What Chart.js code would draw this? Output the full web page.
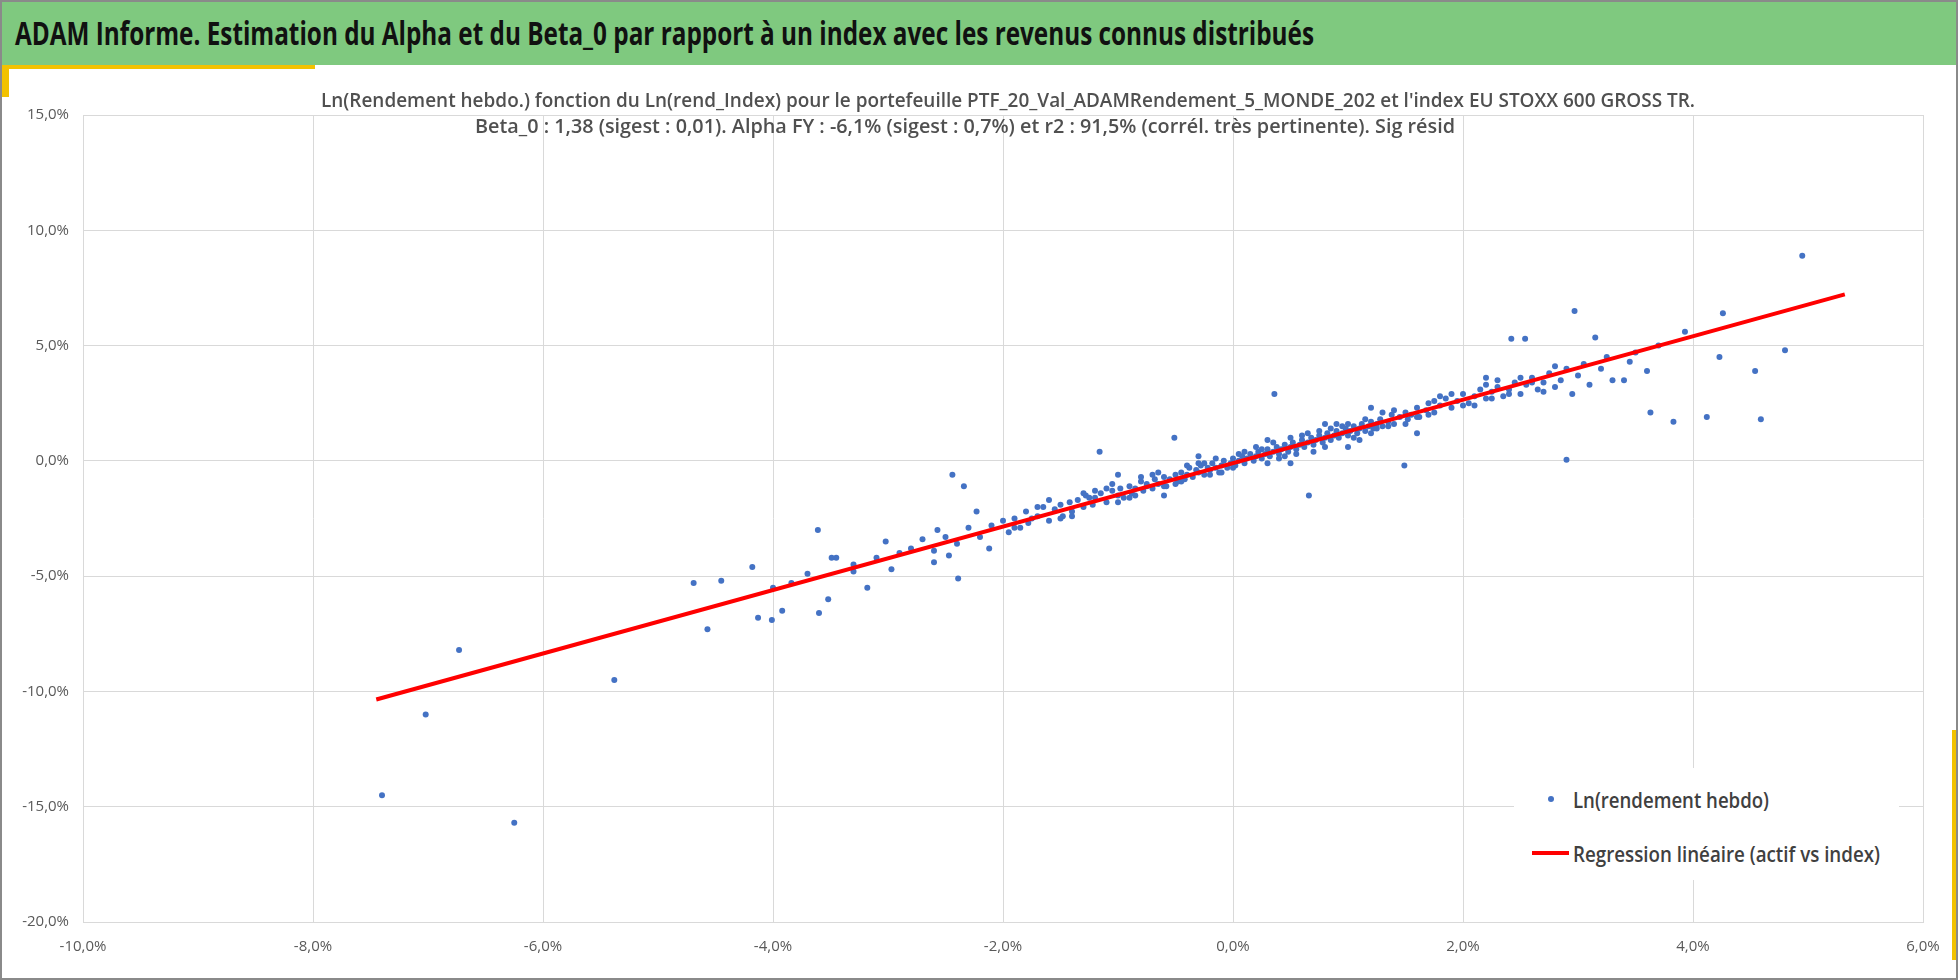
<!DOCTYPE html>
<html><head><meta charset="utf-8">
<script src="https://cdn.jsdelivr.net/npm/chart.js@4"></script>
<style>
html,body{margin:0;padding:0;background:#fff;}
#wrap{position:relative;width:1958px;height:980px;overflow:hidden;font-family:"Liberation Sans Narrow","Open Sans",sans-serif;}
#frame{position:absolute;left:0;top:0;width:1954px;height:976px;border:2px solid #8a8a8a;pointer-events:none;z-index:5}
#hdr{position:absolute;left:0;top:0;width:1958px;height:65px;background:#7fc97f;}
.t{position:absolute;white-space:nowrap;transform-origin:0 50%;line-height:1;}
#c{position:absolute;left:0;top:0;}
#leg{position:absolute;left:1514px;top:768px;width:385px;height:112px;background:#fff;z-index:2}
</style></head><body>
<div id="wrap">
<canvas id="c" width="1958" height="980"></canvas>
<div id="hdr"></div>
<div style="position:absolute;left:2px;top:65px;width:313px;height:4px;background:#f2c200;z-index:3"></div>
<div style="position:absolute;left:2px;top:65px;width:7px;height:32px;background:#f2c200;z-index:3"></div>
<div style="position:absolute;left:1952px;top:730px;width:4px;height:230px;background:#f2c200;z-index:3"></div>
<div class="t" data-w="1299" style="left:15px;top:33px;font-size:32px;font-weight:bold;color:#111;z-index:4">ADAM Informe. Estimation du Alpha et du Beta_0 par rapport à un index avec les revenus connus distribués</div>
<div class="t" data-w="1374" style="left:321px;top:100px;font-size:19px;font-weight:600;color:#505050;z-index:4">Ln(Rendement hebdo.) fonction du Ln(rend_Index) pour le portefeuille PTF_20_Val_ADAMRendement_5_MONDE_202 et l'index EU STOXX 600 GROSS TR.</div>
<div class="t" data-w="980" style="left:475px;top:126px;font-size:19px;font-weight:600;color:#505050;z-index:4">Beta_0 : 1,38 (sigest : 0,01).  Alpha FY : -6,1% (sigest : 0,7%) et r2 : 91,5% (corrél. très pertinente). Sig résid</div>
<div id="leg"></div>
<div style="position:absolute;left:1548px;top:796px;width:6px;height:6px;border-radius:50%;background:#4472c4;z-index:4"></div>
<div style="position:absolute;left:1532px;top:851px;width:37px;height:4px;background:#ff0000;z-index:4"></div>
<div class="t" data-w="196" style="left:1573px;top:800px;font-size:21px;font-weight:600;color:#404040;z-index:4">Ln(rendement hebdo)</div>
<div class="t" data-w="307" style="left:1573px;top:854px;font-size:21px;font-weight:600;color:#404040;z-index:4">Regression linéaire (actif vs index)</div>
<div id="frame"></div>
</div>
<script>
const xTicks=[-10,-8,-6,-4,-2,0,2,4,6];
const yTicks=[-20,-15,-10,-5,0,5,10,15];
const ptsX=[-7.40,-7.02,-6.73,-6.25,-5.38,-4.69,-4.57,-4.45,-4.18,-4.13,-4.01,-3.92,-3.84,-3.61,-3.60,-3.52,-3.49,-3.45,-3.30,-3.18,-3.02,-2.97,-2.90,-2.44,-2.39,-2.34,-2.57,-2.60,-2.47,-2.23,-2.12,-1.16,-0.51,0.36,0.66,1.49,2.42,2.54,2.90,2.97,3.15,3.63,3.83,4.12,4.23,4.26,4.54,4.59,4.80,4.95,3.93,3.45,3.30,3.70,
-2.0,-1.95,-1.9,-1.85,-1.8,-1.78,-1.7,-1.65,-1.6,-1.55,-1.5,-1.48,-1.42,-1.4,-1.35,-1.3,-1.28,-1.22,-1.2,-1.15,-1.1,-1.05,-1.0,-0.98,-0.95,-0.9,-0.88,-0.85,-0.8,-0.78,-0.75,-0.7,-0.68,-0.65,-0.6,-0.58,-0.55,-0.5,-0.48,-0.45,-0.42,-0.4,-0.38,-0.35,-0.32,-0.3,-0.28,-0.25,-0.22,-0.2,-0.18,-0.15,-0.12,-0.1,-0.08,-0.05,-0.02,0.0,0.02,0.05,0.08,0.1,0.12,0.15,0.18,0.2,0.22,0.25,0.28,0.3,0.32,0.35,0.38,0.4,0.42,0.45,0.48,0.5,0.52,0.55,0.58,0.6,0.62,0.65,0.68,0.7,0.72,0.75,0.78,0.8,0.82,0.85,0.88,0.9,0.92,0.95,0.98,1.0,1.02,1.05,1.08,1.1,1.12,1.15,1.18,1.2,1.22,1.25,1.28,1.3,1.35,1.38,1.4,1.45,1.5,1.52,1.55,1.6,1.62,1.68,1.7,1.75,1.8,1.85,1.9,1.95,2.0,2.05,2.1,2.15,2.2,2.25,2.3,2.35,2.4,2.45,2.5,2.55,2.6,2.65,2.7,2.75,2.8,2.85,2.9,2.95,3.0,3.05,3.1,3.2,3.25,3.4,3.5,3.6,
-2.8,-2.7,-2.6,-2.5,-2.4,-2.3,-2.2,-2.1,-3.3,-3.1,-3.7,-4.0,0.3,-0.3,0.5,1.0,1.2,-1.0,0.8,-0.6,1.6,2.2,
-1.9,-1.7,-1.5,-1.3,-1.1,-0.9,-0.7,-0.5,-0.3,-0.1,0.1,0.3,0.5,0.7,0.9,1.1,1.3,1.5,1.7,1.9,2.1,2.3,2.5,2.7,
-1.6,-1.4,-1.2,-1.0,-0.8,-0.6,-0.4,-0.2,0.0,0.2,0.4,0.6,0.8,1.0,1.2,1.4,1.6,1.8,2.0,2.2,2.4,2.6,2.8,
-1.75,-1.25,-0.75,-0.25,0.25,0.75,1.25,1.75,2.25,0.45,0.65,0.85,1.05,1.15,1.35,-0.15,0.05,-0.45,-0.65,-0.85,-1.05,0.35,0.55,0.95];
const ptsY=[-14.5,-11.0,-8.2,-15.7,-9.5,-5.3,-7.3,-5.2,-4.6,-6.8,-6.9,-6.5,-5.3,-3.0,-6.6,-6.0,-4.2,-4.2,-4.8,-5.5,-3.5,-4.7,-4.0,-0.6,-5.1,-1.1,-3.0,-4.4,-4.1,-2.2,-3.8,0.4,1.0,2.9,-1.5,-0.2,5.3,5.3,0.05,6.5,5.35,2.1,1.7,1.9,4.5,6.4,3.9,1.8,4.8,8.9,5.6,4.3,3.5,5.0,
-2.6,-3.1,-2.5,-2.9,-2.2,-2.7,-2.4,-2.0,-2.6,-2.1,-1.9,-2.4,-1.8,-2.2,-1.7,-2.0,-1.5,-1.9,-1.6,-1.4,-1.8,-1.3,-1.5,-1.2,-1.6,-1.1,-1.4,-1.2,-0.9,-1.3,-1.0,-1.2,-0.8,-1.0,-0.7,-1.1,-0.8,-0.6,-0.9,-0.5,-0.8,-0.6,-0.3,-0.7,-0.4,-0.5,-0.2,-0.6,-0.3,-0.4,-0.1,-0.3,-0.5,-0.2,0.0,-0.3,-0.1,0.1,-0.2,0.0,0.2,-0.1,0.1,0.3,0.0,0.2,0.4,0.1,0.3,0.5,0.2,0.4,0.6,0.3,0.5,0.7,0.4,0.6,0.8,0.5,0.7,0.9,0.6,0.8,1.0,0.7,0.9,1.1,0.8,1.0,1.2,0.9,1.1,1.3,1.0,1.2,1.4,1.1,1.3,1.5,1.2,1.4,1.6,1.3,1.5,1.7,1.4,1.6,1.8,1.5,1.7,2.0,1.6,1.9,2.1,1.8,2.0,2.3,1.9,2.2,2.5,2.1,2.4,2.7,2.3,2.6,2.9,2.5,2.8,3.1,2.7,3.0,3.2,2.8,3.1,3.4,2.9,3.3,3.6,3.1,3.4,3.8,3.2,3.5,4.0,2.9,3.7,4.2,3.3,4.0,4.5,3.5,4.7,3.9,
-3.8,-3.4,-3.9,-3.3,-3.6,-2.9,-3.3,-2.8,-4.5,-4.2,-4.9,-5.5,0.9,0.2,-0.1,0.6,2.3,-0.6,1.6,-1.5,1.2,3.6,
-2.9,-2.0,-2.5,-1.4,-1.2,-1.6,-0.6,-1.0,-0.1,-0.5,0.4,-0.1,1.0,0.4,1.6,0.9,2.1,1.6,2.0,2.9,2.4,3.5,3.6,3.0,
-1.7,-2.4,-1.3,-1.8,-0.7,-1.1,-0.2,-0.6,-0.3,0.6,0.1,1.1,0.6,1.6,1.2,2.2,1.9,2.8,2.4,3.3,2.9,3.4,4.1,
-2.5,-1.6,-1.1,-0.1,0.5,1.3,1.4,2.6,2.7,0.2,1.2,1.4,1.0,1.8,1.5,0.1,0.3,-0.9,-0.5,-1.5,-1.0,0.8,0.3,1.5];
const regX=[-7.45,5.32];
const regY=[-10.35,7.22];

const fmt=v=>v.toFixed(1).replace('.',',')+'%';
const pts=ptsX.map((x,i)=>({x:x,y:ptsY[i]}));
const reg=regX.map((x,i)=>({x:x,y:regY[i]}));
Chart.defaults.font.family='"Liberation Sans Narrow","Open Sans",sans-serif';
new Chart(document.getElementById('c'),{
 type:'scatter',
 data:{datasets:[
  {label:'Ln(rendement hebdo)',data:pts,backgroundColor:'#4472c4',borderColor:'#4472c4',pointRadius:3,pointBorderWidth:0,order:2},
  {type:'line',label:'Regression linéaire (actif vs index)',data:reg,borderColor:'#ff0000',borderWidth:4,pointRadius:0,fill:false,order:1}
 ]},
 options:{responsive:false,animation:false,
  layout:{padding:{top:115,right:35,bottom:18,left:0}},
  plugins:{legend:{display:false},title:{display:false},tooltip:{enabled:false}},
  scales:{
   x:{type:'linear',min:-10,max:6,afterBuildTicks:s=>{s.ticks=xTicks.map(v=>({value:v}));},
      afterFit:s=>{s.height=40;},
      grid:{color:'#d9d9d9',drawTicks:false},border:{color:'#d9d9d9'},
      ticks:{color:'#595959',font:{size:15},padding:16,maxRotation:0,callback:v=>fmt(v)}},
   y:{type:'linear',min:-20,max:15,afterBuildTicks:s=>{s.ticks=yTicks.map(v=>({value:v}));},
      afterFit:s=>{s.width=83;},
      grid:{color:'#d9d9d9',drawTicks:false},border:{color:'#d9d9d9'},
      ticks:{color:'#595959',font:{size:15},padding:14,callback:v=>fmt(v)}}
  }}
});
document.querySelectorAll('.t[data-w]').forEach(el=>{
 const w=el.getBoundingClientRect().width;const tw=+el.dataset.w;
 el.style.transform='translateY(-50%) scaleX('+(tw/w)+')';
});
</script>
</body></html>
